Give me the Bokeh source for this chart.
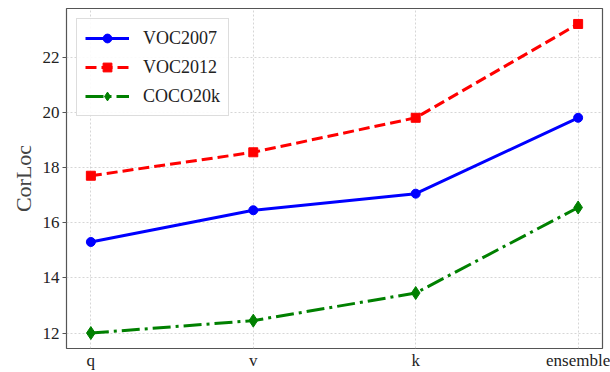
from bokeh.plotting import figure
from bokeh.models import Range1d, FixedTicker, Legend, LegendItem
from bokeh.embed import file_html
from bokeh.resources import INLINE

categories = ["q", "v", "k", "ensemble"]
voc2007 = [15.3, 16.45, 17.05, 19.8]
voc2012 = [17.7, 18.55, 19.8, 23.2]
coco20k = [12.0, 12.45, 13.45, 16.55]
y_ticks = [12, 14, 16, 18, 20, 22]

SERIF = "Liberation Serif"
xs = list(range(len(categories)))
Y0, Y1 = 11.44, 23.76

p = figure(width=610, height=372, output_backend="svg", toolbar_location=None,
           x_range=Range1d(-0.15, len(categories) - 1 + 0.15),
           y_range=Range1d(Y0, Y1),
           min_border_left=66, min_border_right=8, min_border_top=8, min_border_bottom=0,
           background_fill_color="white", border_fill_color="white")

p.outline_line_color = "#555555"
p.outline_line_width = 1.2

p.xaxis.ticker = FixedTicker(ticks=xs)
p.xaxis.major_label_overrides = {i: c for i, c in enumerate(categories)}
p.yaxis.ticker = FixedTicker(ticks=y_ticks)
p.yaxis.axis_label = "CorLoc"
p.yaxis.axis_label_text_font = SERIF
p.yaxis.axis_label_text_font_style = "normal"
p.yaxis.axis_label_text_font_size = "22px"
p.yaxis.axis_label_standoff = 4
for ax in (p.xaxis, p.yaxis):
    ax.major_label_text_font = SERIF
    ax.major_label_text_font_size = "17px"
    ax.major_label_text_color = "#222222"
    ax.axis_line_color = None
    ax.major_tick_line_color = "#555555"
    ax.major_tick_in = 0
    ax.major_tick_out = 4
    ax.minor_tick_line_color = None
    ax.major_label_standoff = 3
p.xaxis.major_tick_out = 0
p.xaxis.major_label_standoff = 2

p.grid.grid_line_color = "#cccccc"
p.grid.grid_line_dash = "2 2"
p.grid.grid_line_width = 0.8

r1l = p.line(xs, voc2007, line_color="blue", line_width=3)
r1m = p.scatter(xs, voc2007, marker="circle", size=9, fill_color="blue", line_color="blue")
r2l = p.line(xs, voc2012, line_color="red", line_width=3, line_dash="11 5")
r2m = p.scatter(xs, voc2012, marker="square", size=9, fill_color="red", line_color="red")
r3l = p.line(xs, coco20k, line_color="green", line_width=3, line_dash="18 5 3 5")
r3m = p.scatter(xs, coco20k, marker="diamond", size=13, fill_color="green", line_color="green")

legend = Legend(items=[
    LegendItem(label="VOC2007", renderers=[r1l, r1m]),
    LegendItem(label="VOC2012", renderers=[r2l, r2m]),
    LegendItem(label="COCO20k", renderers=[r3l, r3m]),
], location="top_left")
legend.label_text_font = SERIF
legend.label_text_font_size = "18px"
legend.label_text_color = "#222222"
legend.glyph_width = 44
legend.glyph_height = 22
legend.label_standoff = 14
legend.spacing = 7
legend.padding = 8
legend.margin = 10
legend.border_line_color = "#bbbbbb"
legend.border_line_width = 1
legend.background_fill_alpha = 0.9
p.add_layout(legend)

open("out.html", "w").write(file_html(p, INLINE))
